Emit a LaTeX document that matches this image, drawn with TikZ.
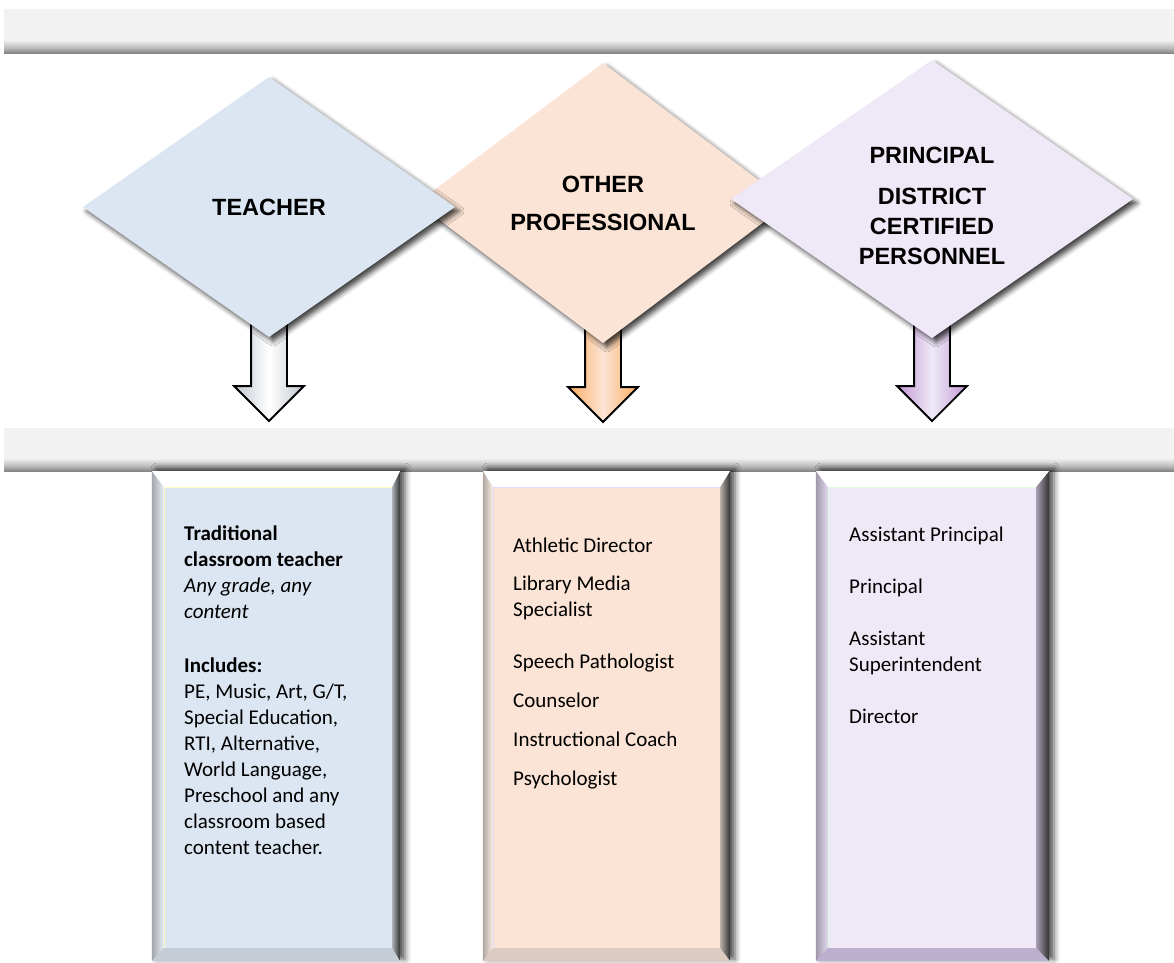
\documentclass[tikz,border=0pt]{standalone}
\usepackage{fontspec}
\newfontfamily\headfont{Liberation Sans}
\newfontfamily\listfont{Carlito}
\usetikzlibrary{shapes.geometric, shapes.arrows, shadows.blur, positioning}

\definecolor{teachblue}{HTML}{DCE6F2}
\definecolor{profpeach}{HTML}{FBE4D5}
\definecolor{princlilac}{HTML}{EFE9F7}
\definecolor{princedge}{HTML}{D2BFEA}
\definecolor{barlight}{HTML}{F2F2F2}
\definecolor{bardark}{HTML}{858585}
% bar: flat light grey, darker towards the lower edge
\pgfdeclareverticalshading{barshade}{100bp}{color(0bp)=(bardark); color(25bp)=(bardark); color(31bp)=(bardark!50!barlight); color(40bp)=(barlight); color(100bp)=(barlight)}

\tikzset{
x=1pt, y=-1pt, % one unit is one pixel of the reference, y runs downwards
bar/.style={rectangle, inner sep=0, outer sep=0, minimum width=1171pt, shading=barshade},
headfont/.style={font=\headfont\bfseries\fontsize{23.5}{28}\selectfont},
choice/.style={diamond, inner sep=0, outer sep=0, align=center, headfont,
  blur shadow={shadow xshift=4pt, shadow yshift=-4pt, shadow blur radius=5pt, shadow opacity=75}},
downarrow/.style={single arrow, rotate=-90, anchor=tail, draw=black, line width=1.8pt,
  inner xsep=0, inner ysep=17pt, minimum width=68pt, single arrow head extend=17pt, outer sep=0}, % block arrow under each diamond
frame/.style={rectangle, inner sep=0, outer sep=0, minimum width=248pt, minimum height=490pt, fill=gray!40,
  blur shadow={shadow xshift=5pt, shadow yshift=2pt, shadow blur radius=6pt, shadow opacity=70}},
face/.style={rectangle, inner sep=0, outer sep=0, minimum height=461pt, line width=1pt},
listing/.style={anchor=base west, align=left, inner sep=0, font=\listfont\fontsize{21}{26}\selectfont}, % base = last line
}

\begin{document}
\begin{tikzpicture}
    \useasboundingbox (0,0) rectangle (1174,962);

    \node[bar, minimum height=44pt] (topbar) at (589.5,31) {};
    \node[bar, minimum height=43pt] (lowbar) at (589.5,449.5) {};

    \coordinate (tc) at (269,207);
    \coordinate (oc) at (603,203);
    \coordinate (pc) at (932,199);

    % arrows first, the diamonds hide their tails
    \node[downarrow, minimum height=214pt, left color=teachblue!70!gray, right color=teachblue!70!gray, middle color=white] (tarr) at (tc) {};
    \node[downarrow, minimum height=219pt, left color=profpeach!45!orange, right color=profpeach!45!orange, middle color=profpeach] (oarr) at (oc) {};
    \node[downarrow, minimum height=222pt, left color=princedge!80!violet, right color=princedge!80!violet, middle color=princlilac] (parr) at (pc) {};

    \node[choice, fill=profpeach, minimum width=372pt, minimum height=280pt] (prof) at (oc) {OTHER\\[10pt]PROFESSIONAL};
    \node[choice, fill=teachblue, minimum width=372pt, minimum height=260pt] (teach) at (tc) {TEACHER};
    \node[choice, fill=princlilac, minimum width=402pt, minimum height=278pt,
        label={[headfont, align=center, yshift=-7pt]center:PRINCIPAL\\[13pt]DISTRICT\\[2pt]CERTIFIED\\[2pt]PERSONNEL}] (princ) at (pc) {};

    % bevelled boxes
    \node[frame] (tframe) at (276,716) {};
    \node[frame, minimum width=247pt] (oframe) at (606.5,716) {};
    \node[frame, minimum width=233pt] (pframe) at (932.5,716) {};

    \node[face, fill=teachblue, draw=yellow!25, minimum width=228pt] (tface) at (278,717.5) {};
    \node[face, fill=profpeach, draw=blue!15, minimum width=227pt] (oface) at (606.5,717.5) {};
    \node[face, fill=princlilac, draw=green!15, minimum width=208pt] (pface) at (932,717.5) {};

    \foreach \f/\g/\c in {tframe/tface/teachblue, oframe/oface/profpeach, pframe/pface/princedge} {
        \shade[left color=\c!40!gray, right color=\c!60!white] (\f.north west) -- (\g.north west) -- (\g.south west) -- (\f.south west) -- cycle;
        \shade[left color=\c!50!gray, right color=black!80] (\g.north east) -- (\f.north east) -- (\f.south east) -- (\g.south east) -- cycle;
        \fill[white] (\f.north west) -- (\f.north east) -- (\g.north east) -- (\g.north west) -- cycle;
        \fill[\c!75!gray] (\f.south west) -- (\g.south west) -- (\g.south east) -- (\f.south east) -- cycle;
    }

    \node[listing] (tlist) at (184,854) {\bfseries Traditional\\\bfseries classroom teacher\\\itshape Any grade, any\\\itshape content\\[28pt]
        \bfseries Includes:\\PE, Music, Art, G/T,\\Special Education,\\RTI, Alternative,\\World Language,\\Preschool and any\\classroom based\\content teacher.};
    \node[listing] (olist) at (513,785) {Athletic Director\\[12pt]Library Media\\Specialist\\[26pt]Speech Pathologist\\[13pt]Counselor\\[13pt]Instructional Coach\\[13pt]Psychologist};
    \node[listing] (plist) at (849,723) {Assistant Principal\\[26pt]Principal\\[26pt]Assistant\\Superintendent\\[26pt]Director};
\end{tikzpicture}
\end{document}
